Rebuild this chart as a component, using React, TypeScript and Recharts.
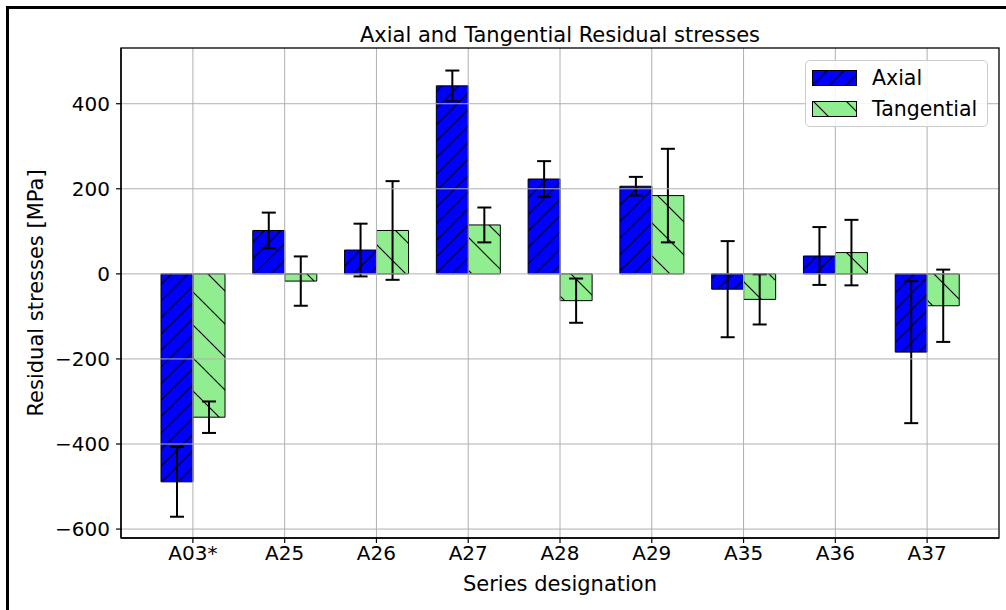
import React from 'react';
import { BarChart, Bar, XAxis, YAxis, ErrorBar, ReferenceLine } from 'recharts';

const categories = ['A03*', 'A25', 'A26', 'A27', 'A28', 'A29', 'A35', 'A36', 'A37'];
const axialValues = [-489, 102, 56, 442, 223, 206, -36, 42, -184];
const axialErrors = [82, 42, 62, 36, 42, 22, 113, 68, 167];
const tangentialValues = [-337, -17, 102, 115, -63, 184, -60, 50, -75];
const tangentialErrors = [37, 58, 116, 41, 52, 110, 59, 77, 85];
const yTicks = [-600, -400, -200, 0, 200, 400];
const yDomain = [-621, 531];

const data = categories.map((name, i) => ({
  name,
  axial: axialValues[i],
  axialErr: axialErrors[i],
  tangential: tangentialValues[i],
  tangentialErr: tangentialErrors[i],
}));

const FONT = '"DejaVu Sans", sans-serif';
const BLUE = '#0000ff';
const GREEN = '#90ee90';
const GRID = '#b0b0b0';

const W = 1006;
const H = 610;
const MARGIN = { top: 48, right: 7, bottom: 32, left: 61 };
const Y_AXIS_W = 60;
const X_AXIS_H = 40;
const PLOT = {
  left: MARGIN.left + Y_AXIS_W,
  top: MARGIN.top,
  right: W - MARGIN.right,
  bottom: H - MARGIN.bottom - X_AXIS_H,
};

const HatchDefs = ({ prefix }: { prefix: string }) => {
  const a = 16.5;
  const t = 33;
  return (
    <defs>
      <pattern id={`${prefix}Axial`} patternUnits="userSpaceOnUse" width={a} height={a}>
        <rect width={a} height={a} fill={BLUE} />
        <path
          d={`M0,${a} L${a},0 M${-a / 2},${a / 2} L${a / 2},${-a / 2} M${a / 2},${a * 1.5} L${a * 1.5},${a / 2}`}
          stroke="#000"
          strokeWidth={1.2}
        />
      </pattern>
      <pattern id={`${prefix}Tang`} patternUnits="userSpaceOnUse" width={t} height={t}>
        <rect width={t} height={t} fill={GREEN} />
        <path
          d={`M0,0 L${t},${t} M${-t / 2},${t / 2} L${t / 2},${t * 1.5} M${t / 2},${-t / 2} L${t * 1.5},${t / 2}`}
          stroke="#000"
          strokeWidth={1.2}
        />
      </pattern>
    </defs>
  );
};

const fmt = (v: number) => String(v).replace('-', '\u2212');

export default function App() {
  return (
    <div style={{ position: 'absolute', left: 0, top: 0, width: W, height: H, background: '#fff', fontFamily: FONT }}>
      <BarChart width={W} height={H} data={data} margin={MARGIN} barGap={0} barSize={32}>
        <HatchDefs prefix="hatch" />
        <XAxis
          dataKey="name"
          interval={0}
          padding={{ left: 26, right: 26 }}
          height={X_AXIS_H}
          tickSize={5}
          tickMargin={3}
          axisLine={{ stroke: '#000', strokeWidth: 1.3 }}
          tickLine={{ stroke: '#000', strokeWidth: 1.2 }}
          tick={{ fontSize: 20, fill: '#000', fontFamily: FONT }}
        />
        <YAxis
          type="number"
          domain={yDomain}
          ticks={yTicks}
          allowDataOverflow
          width={Y_AXIS_W}
          tickSize={5}
          tickMargin={6}
          tickFormatter={fmt}
          axisLine={{ stroke: '#000', strokeWidth: 1.3 }}
          tickLine={{ stroke: '#000', strokeWidth: 1.2 }}
          tick={{ fontSize: 20, fill: '#000', fontFamily: FONT }}
        />
        <Bar dataKey="axial" fill="url(#hatchAxial)" stroke="#000" strokeWidth={1} isAnimationActive={false}>
          <ErrorBar dataKey="axialErr" width={7} strokeWidth={2} stroke="#000" direction="y" />
        </Bar>
        <Bar dataKey="tangential" fill="url(#hatchTang)" stroke="#000" strokeWidth={1} isAnimationActive={false}>
          <ErrorBar dataKey="tangentialErr" width={7} strokeWidth={2} stroke="#000" direction="y" />
        </Bar>
        {yTicks.map((v) => (
          <ReferenceLine key={`h${v}`} y={v} stroke={GRID} strokeWidth={1} />
        ))}
        {categories.map((c) => (
          <ReferenceLine key={`v${c}`} x={c} stroke={GRID} strokeWidth={1} />
        ))}
      </BarChart>

      <svg
        width={W}
        height={H}
        style={{ position: 'absolute', left: 0, top: 0, pointerEvents: 'none' }}
        fontFamily={FONT}
      >
        <rect
          x={PLOT.left}
          y={PLOT.top}
          width={PLOT.right - PLOT.left}
          height={PLOT.bottom - PLOT.top}
          fill="none"
          stroke="#000"
          strokeWidth={1.3}
        />
        <path d="M7.5,610 L7.5,7.5 L1006,7.5" fill="none" stroke="#000" strokeWidth={3} />
        <text x={560} y={41.5} textAnchor="middle" fontSize={21} fill="#000">
          Axial and Tangential Residual stresses
        </text>
        <text x={560} y={591} textAnchor="middle" fontSize={21} fill="#000">
          Series designation
        </text>
        <text transform="translate(43,293) rotate(-90)" textAnchor="middle" fontSize={21} fill="#000">
          Residual stresses [MPa]
        </text>
      </svg>

      <div
        style={{
          position: 'absolute',
          left: 805,
          top: 60,
          width: 183,
          height: 67,
          boxSizing: 'border-box',
          border: '1px solid #cccccc',
          borderRadius: 5,
          background: 'rgba(255,255,255,0.85)',
        }}
      >
        <svg width={183} height={67} style={{ position: 'absolute', left: -1, top: -1 }} fontFamily={FONT}>
          <HatchDefs prefix="leg" />
          <rect x={7.5} y={10.5} width={44} height={15} fill="url(#legAxial)" stroke="#000" strokeWidth={1} />
          <rect x={7.5} y={41.5} width={44} height={15} fill="url(#legTang)" stroke="#000" strokeWidth={1} />
          <text x={67} y={25} fontSize={20.5} fill="#000">Axial</text>
          <text x={67} y={56} fontSize={20.5} fill="#000">Tangential</text>
        </svg>
      </div>
    </div>
  );
}
